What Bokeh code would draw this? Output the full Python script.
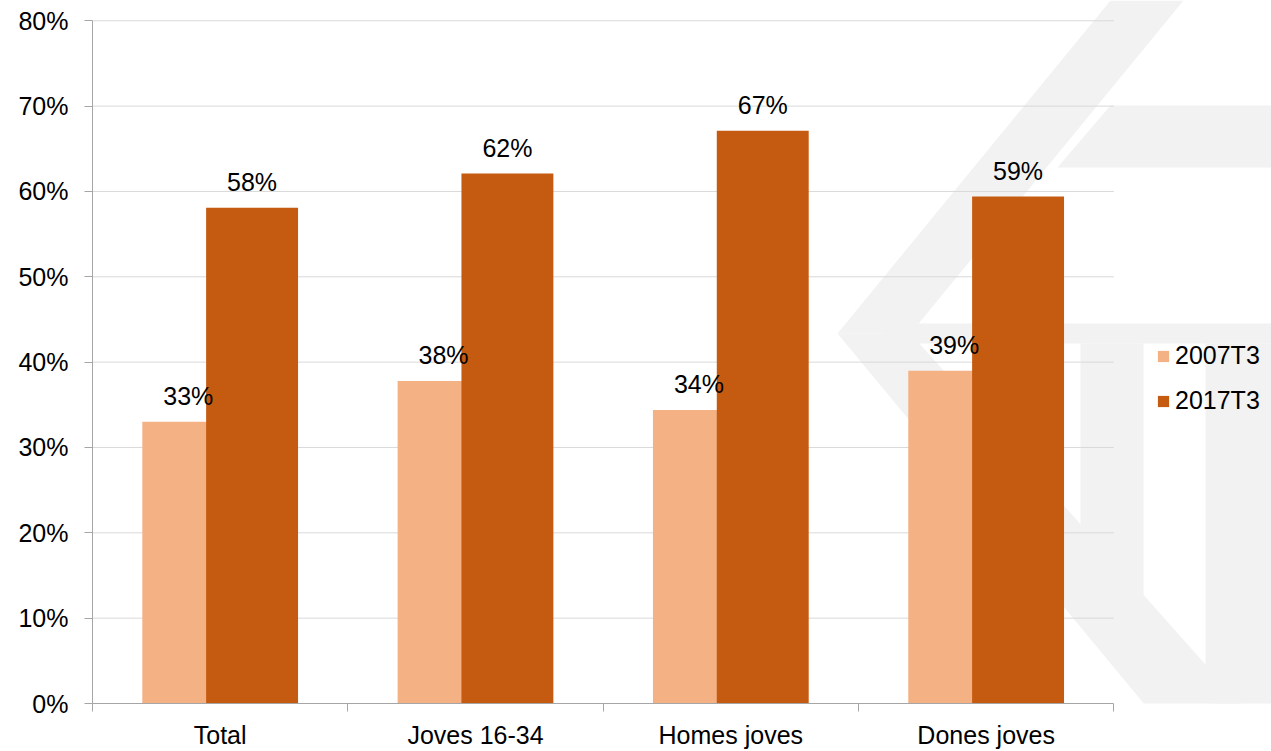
import numpy as np
from bokeh.plotting import figure
from bokeh.models import (ColumnDataSource, FixedTicker, Legend, LegendItem,
                          PolyAnnotation)
from bokeh.core.properties import value
from bokeh.embed import file_html
from bokeh.resources import INLINE

# ---- data ----
categories = ["Total", "Joves 16-34", "Homes joves", "Dones joves"]
series_names = ["2007T3", "2017T3"]
values_2007 = [33.0, 37.8, 34.4, 39.0]
values_2017 = [58.1, 62.1, 67.1, 59.4]
y_ticks = [0, 10, 20, 30, 40, 50, 60, 70, 80]

# ---- style ----
FONT = "Liberation Sans"
FS = "25px"
C_LIGHT = "#F4B183"
C_DARK = "#C55A11"
GRID = "#D9D9D9"
AXIS = "#A6A6A6"
WM = "#F2F2F2"

# decorative watermark polygons (canvas px)
watermark_shapes = [
    [(1110, 0), (1183, 0), (910, 333), (837, 333)],
    [(837, 333), (910, 333), (1271, 738), (1271, 751), (1183, 751)],
    [(1057, 167), (1110, 105), (1271, 105), (1271, 167)],
    [(885, 323), (1271, 323), (1271, 343), (880, 343)],
    [(1080, 343), (1143, 343), (1143, 640), (1080, 570)],
    [(1205, 343), (1271, 343), (1271, 751), (1205, 700)],
]

n = len(categories)
centers = np.arange(n) + 0.5
offset = 0.125
bar_w = 0.36
y_max = y_ticks[-1]

W, H = 1271, 751
LEFT, BOTTOM = 92, 47
cat_px = 255.33
frame_w = W - LEFT
frame_h = H - BOTTOM
x_end = frame_w / cat_px
y_end = y_max * frame_h / (frame_h - 20.3)

p = figure(width=W, height=H, x_range=(0, x_end), y_range=(0, y_end),
           output_backend="svg", toolbar_location=None,
           min_border_left=LEFT, min_border_right=0,
           min_border_top=0, min_border_bottom=BOTTOM)
p.outline_line_color = None
p.background_fill_color = "white"
p.border_fill_color = "white"

for shape in watermark_shapes:
    p.add_layout(PolyAnnotation(xs=[pt[0] for pt in shape], ys=[pt[1] for pt in shape],
                                xs_units="canvas", ys_units="canvas",
                                fill_color=WM, fill_alpha=1.0, line_color=None,
                                level="image"))

# gridlines limited to the category area
grid_y = [t for t in y_ticks if t > 0]
p.segment(x0=[0] * len(grid_y), x1=[n] * len(grid_y), y0=grid_y, y1=grid_y,
          line_color=GRID, line_width=1)

src1 = ColumnDataSource(dict(x=centers - offset, top=values_2007,
                             lab=[f"{round(v)}%" for v in values_2007]))
src2 = ColumnDataSource(dict(x=centers + offset, top=values_2017,
                             lab=[f"{round(v)}%" for v in values_2017]))

r1 = p.vbar(x="x", top="top", width=bar_w, bottom=0, source=src1,
            fill_color=C_LIGHT, line_color=None)
r2 = p.vbar(x="x", top="top", width=bar_w, bottom=0, source=src2,
            fill_color=C_DARK, line_color=None)

for src in (src1, src2):
    p.text(x="x", y="top", text="lab", source=src, text_align="center",
           text_baseline="alphabetic", y_offset=-26,
           text_font=value(FONT), text_font_size=FS, text_color="black")

p.xgrid.visible = False
p.ygrid.visible = False

# y axis
p.yaxis.bounds = (0, y_max)
p.yaxis.ticker = FixedTicker(ticks=y_ticks)
p.yaxis.major_label_overrides = {t: f"{t}%" for t in y_ticks}
p.yaxis.axis_line_color = AXIS
p.yaxis.major_tick_line_color = AXIS
p.yaxis.major_tick_out = 8
p.yaxis.major_tick_in = 0
p.yaxis.minor_tick_line_color = None
p.yaxis.major_label_standoff = 16
p.yaxis.major_label_text_font = FONT
p.yaxis.major_label_text_font_size = FS
p.yaxis.major_label_text_color = "black"

# x axis: labels at category centres, tick marks at category boundaries
p.xaxis.bounds = (0, n)
p.xaxis.ticker = FixedTicker(ticks=list(centers), minor_ticks=list(range(n + 1)))
p.xaxis.major_label_overrides = {float(c): cat for c, cat in zip(centers, categories)}
p.xaxis.axis_line_color = AXIS
p.xaxis.major_tick_line_color = None
p.xaxis.major_tick_out = 0
p.xaxis.major_tick_in = 0
p.xaxis.minor_tick_line_color = AXIS
p.xaxis.minor_tick_out = 8
p.xaxis.minor_tick_in = 0
p.xaxis.major_label_standoff = 9
p.xaxis.major_label_text_font = FONT
p.xaxis.major_label_text_font_size = FS
p.xaxis.major_label_text_color = "black"

legend = Legend(items=[LegendItem(label=series_names[0], renderers=[r1]),
                       LegendItem(label=series_names[1], renderers=[r2])],
                location=(1156 - LEFT, 288), orientation="vertical",
                padding=0, margin=0, border_line_color=None,
                background_fill_alpha=0, glyph_width=14, glyph_height=14,
                label_standoff=5, spacing=16,
                label_text_font=FONT, label_text_font_size=FS,
                label_text_color="black")
p.add_layout(legend, "center")

open("out.html", "w").write(file_html(p, INLINE))
